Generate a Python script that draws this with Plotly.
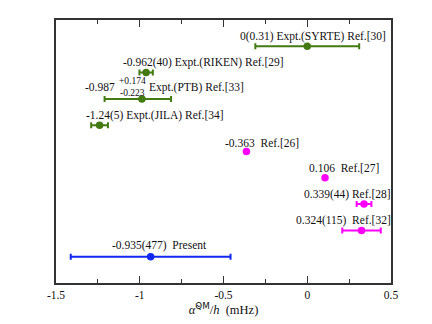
import plotly.graph_objects as go

# valores (mHz), de cima para baixo
values = [0.0, -0.962, -0.987, -1.24, -0.363, 0.106, 0.339, 0.324, -0.935]
err_plus = [0.31, 0.040, 0.174, 0.05, None, None, 0.044, 0.115, 0.477]
err_minus = [0.31, 0.040, 0.223, 0.05, None, None, 0.044, 0.115, 0.477]
rows = [9, 8, 7, 6, 5, 4, 3, 2, 1]
groups = ["expt", "expt", "expt", "expt", "theo", "theo", "theo", "theo", "present"]
labels = [
    "0(0.31) Expt.(SYRTE) Ref.[30]",
    "-0.962(40) Expt.(RIKEN) Ref.[29]",
    "Expt.(PTB) Ref.[33]",
    "-1.24(5) Expt.(JILA) Ref.[34]",
    "-0.363\u00a0\u00a0Ref.[26]",
    "0.106\u00a0\u00a0Ref.[27]",
    "0.339(44) Ref.[28]",
    "0.324(115)\u00a0\u00a0Ref.[32]",
    "-0.935(477)\u00a0\u00a0Present",
]

# posição dos rótulos (esquerda do texto, centro vertical)
label_x = [-0.412, -1.110, -0.957, -1.331, -0.503, 0.0, -0.031, -0.082, -1.18]
label_y = [9.37, 8.39, 7.44, 6.37, 5.33, 4.36, 3.38, 2.37, 1.43]

colors = {"expt": "#437a12", "theo": "#ff00ff", "present": "#1028f0"}
serif = "Liberation Serif, Times New Roman, serif"

fig = go.Figure()
for v, ep, em, r, g in zip(values, err_plus, err_minus, rows, groups):
    c = colors[g]
    ex = dict(type="data", array=[ep], arrayminus=[em], color=c,
              thickness=2, width=3) if ep is not None else dict(visible=False)
    fig.add_trace(go.Scatter(x=[v], y=[r], mode="markers",
                             marker=dict(color=c, size=7.5),
                             error_x=ex, showlegend=False))

for t, x, y in zip(labels, label_x, label_y):
    fig.add_annotation(x=x, y=y, text=t, showarrow=False, xanchor="left",
                       yanchor="middle", font=dict(family=serif, size=11.5, color="#111"))

# rótulo do PTB com incertezas assimétricas
fig.add_annotation(x=-1.134, y=7.44, text="-0.987", showarrow=False, xanchor="right",
                   yanchor="middle", font=dict(family=serif, size=11.5, color="#111"))
fig.add_annotation(x=-1.136, y=7.69, text="+0.174", showarrow=False, xanchor="left",
                   yanchor="middle", font=dict(family=serif, size=9.5, color="#111"))
fig.add_annotation(x=-1.130, y=7.21, text="-0.223", showarrow=False, xanchor="left",
                   yanchor="middle", font=dict(family=serif, size=9.5, color="#111"))

fig.update_layout(
    width=432, height=324,
    margin=dict(l=48, r=49, t=10, b=49),
    plot_bgcolor="white", paper_bgcolor="white",
    font=dict(family=serif, size=11.5, color="#111"),
    xaxis=dict(range=[-1.5, 0.5], tickvals=[-1.5, -1, -0.5, 0, 0.5],
               ticktext=["-1.5", "-1", "-0.5", "0", "0.5"],
               ticks="inside", ticklen=7, tickwidth=1, tickcolor="#333",
               minor=dict(dtick=0.25, ticks="inside", ticklen=4, tickcolor="#333"),
               showline=True, linecolor="#333", linewidth=1.5, mirror="ticks",
               showgrid=False, zeroline=False,
               title=dict(text="<i>α̃</i><sup><span style='font-family:DejaVu Sans'>QM</span></sup>/<i>h</i>\u00a0\u00a0(mHz)",
                          font=dict(family=serif, size=12.5), standoff=3)),
    yaxis=dict(range=[0, 10], showticklabels=False, ticks="",
               showline=True, linecolor="#333", linewidth=1.5, mirror=True,
               showgrid=False, zeroline=False),
)

fig.write_html("out.html")
